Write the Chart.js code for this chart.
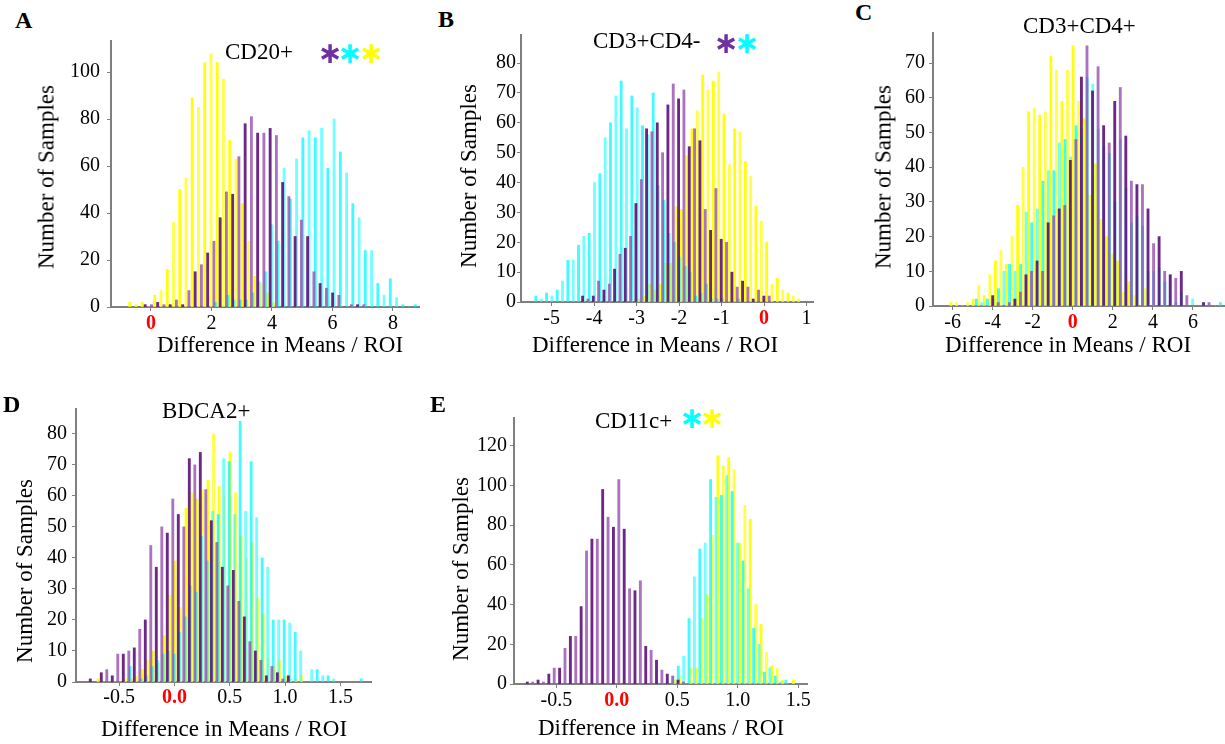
<!DOCTYPE html>
<html>
<head>
<meta charset="utf-8">
<script src="https://cdn.jsdelivr.net/npm/chart.js@4.4.1/dist/chart.umd.min.js"></script>
<style>
  body { margin: 0; background: #fff; width: 1225px; height: 744px; position: relative; overflow: hidden; font-family: "Liberation Serif", "Times New Roman", serif; }
  canvas { position: absolute; }
  .t { position: absolute; font-size: 23px; line-height: 1; white-space: nowrap; color: #000; }
  .yl { transform: translate(-50%, -50%) rotate(-90deg); }
  .xl { transform: translateX(-50%); }
  .lt { position: absolute; font-size: 24px; font-weight: bold; line-height: 1; }
  .s { position: absolute; font-family: "DejaVu Sans", sans-serif; font-weight: bold; font-size: 30px; line-height: 1; transform: translate(-50%, -50%); }
</style>
</head>
<body>
<canvas id="cA"></canvas>
<canvas id="cB"></canvas>
<canvas id="cC"></canvas>
<canvas id="cD"></canvas>
<canvas id="cE"></canvas>

<div class="lt" style="left:15px;top:8px">A</div>
<div class="lt" style="left:438px;top:7px">B</div>
<div class="lt" style="left:855px;top:0px">C</div>
<div class="lt" style="left:3px;top:392px">D</div>
<div class="lt" style="left:430px;top:392px">E</div>

<div class="t" style="left:225px;top:40px">CD20+</div>
<div class="t" style="left:593px;top:29px">CD3+CD4-</div>
<div class="t" style="left:1023px;top:14px">CD3+CD4+</div>
<div class="t" style="left:162px;top:399px">BDCA2+</div>
<div class="t" style="left:595px;top:409px">CD11c+</div>

<span class="s" style="left:330px;top:53px;color:#7030a0">∗</span>
<span class="s" style="left:350px;top:53px;color:#00ffff">∗</span>
<span class="s" style="left:371px;top:53px;color:#ffff00">∗</span>
<span class="s" style="left:726px;top:43px;color:#7030a0">∗</span>
<span class="s" style="left:747px;top:43px;color:#00ffff">∗</span>
<span class="s" style="left:692px;top:418px;color:#00ffff">∗</span>
<span class="s" style="left:712px;top:418px;color:#ffff00">∗</span>

<div class="t yl" style="left:46px;top:177px">Number of Samples</div>
<div class="t yl" style="left:468px;top:176px">Number of Samples</div>
<div class="t yl" style="left:883px;top:177px">Number of Samples</div>
<div class="t yl" style="left:24px;top:571px">Number of Samples</div>
<div class="t yl" style="left:460px;top:569px">Number of Samples</div>

<div class="t xl" style="left:280px;top:333px">Difference in Means / ROI</div>
<div class="t xl" style="left:655px;top:333px">Difference in Means / ROI</div>
<div class="t xl" style="left:1068px;top:333px">Difference in Means / ROI</div>
<div class="t xl" style="left:224px;top:717px">Difference in Means / ROI</div>
<div class="t xl" style="left:661px;top:716px">Difference in Means / ROI</div>

<script>
// ---- histogram data: first bin centre, bin width, counts per bin ----
// A  CD20+
const aBinWidth = 0.2065;
const aPurpleStart = -0.19;
const aPurple = [1,1,2,1,1,3,1,7,15,18,23,28,38,49,48,64,78,81,74,74,76,73,53,47,30,37,30,15,10,8,6,5,0,1,1,1];
const aCyanStart = 2.13;
const aCyan = [2,0,5,3,3,3,6,11,15,35,28,59,46,63,72,75,72,76,59,80,66,57,44,38,24,24,10,5,12,4,1,0,1];
const aYellowStart = -0.70;
const aYellow = [2,1,2,0,5,7,16,36,50,55,89,85,104,108,104,97,71,63,44,28,13,10,6,2];

// B  CD3+CD4-
const bBinWidth = 0.1255;
const bPurpleStart = -4.27;
const bPurple = [2,1,2,7,4,6,11,16,18,22,33,41,58,57,60,50,66,73,68,71,52,58,54,31,24,38,21,20,10,5,7,5,1,4,2,2];
const bCyanStart = -5.37;
const bCyan = [2,1,3,2,4,7,14,14,19,22,23,40,43,55,60,69,74,58,69,65,59,56,70,39,34,23,20,15,12,10,2,3,6,1,1,1,0,0,1];
const bYellowStart = -2.95;
const bYellow = [1,2,6,4,6,13,13,32,31,49,58,64,76,71,74,77,63,46,58,57,47,42,32,27,20,6,8,4,3,2,1];

// C  CD3+CD4+
const cBinWidth = 0.277;
const cPurpleStart = -4.00;
const cPurple = [3,1,0,1,2,4,9,10,13,10,24,26,28,29,42,48,66,75,62,69,52,47,59,63,49,36,35,35,28,18,20,10,9,8,10,3,0,0,1,1];
const cCyanStart = -4.82;
const cCyan = [2,1,2,2,5,10,12,10,12,27,24,28,36,39,39,47,48,43,52,51,66,64,51,46,44,30,48,34,24,26,23,10,10,11,7,9,1,4,0,2,0,1,0,0,1];
const cYellowStart = -6.08;
const cYellow = [1,1,0,1,2,6,3,9,13,16,12,20,29,40,56,57,55,56,72,68,59,68,75,59,54,32,41,25,20,15,13,4,7,3,0,5];

// D  BDCA2+
const dBinWidth = 0.0497;
const dPurpleStart = -0.76;
const dPurple = [1,0,3,4,2,9,9,10,11,17,20,44,37,50,48,59,54,50,72,70,74,62,52,45,37,31,36,26,21,13,10,7,2,5,3,1,2];
const dCyanStart = -0.40;
const dCyan = [5,0,1,2,5,7,9,10,9,16,21,31,29,47,39,55,54,72,71,54,84,55,71,53,40,37,20,20,20,19,16,10,0,4,4,2,2,1,0,0,0,0,1];
const dYellowStart = -0.69;
const dYellow = [1,0,0,0,0,1,1,2,4,7,10,6,15,28,39,24,56,61,59,62,65,80,63,60,74,61,47,40,45,27,22,8,5,7,2,1,1,2];

// E  CD11c+
const eBinWidth = 0.0445;
const ePurpleStart = -0.74;
const ePurple = [1,1,2,1,5,8,8,18,24,24,39,67,73,73,98,84,79,103,78,48,47,52,19,17,12,7,5,4,2,1];
const eCyanStart = 0.33;
const eCyan = [1,0,1,4,9,14,33,54,68,71,103,94,95,105,97,71,62,48,28,20,6,8,4,1,2];
const eYellowStart = 0.48;
const eYellow = [2,4,0,8,8,33,45,75,115,110,114,108,71,90,83,40,30,16,9,8,2,0,2];

// tick labels
const xTicksA = [0, 2, 4, 6, 8];
const xTicksB = [-5, -4, -3, -2, -1, 0, 1];
const xTicksC = [-6, -4, -2, 0, 2, 4, 6];
const xTicksD = [-0.5, 0, 0.5, 1, 1.5];
const xTicksE = [-0.5, 0, 0.5, 1, 1.5];
const yTicksA = [0, 20, 40, 60, 80, 100];
const yTicksB = [0, 10, 20, 30, 40, 50, 60, 70, 80];
const yTicksC = [0, 10, 20, 30, 40, 50, 60, 70];
const yTicksD = [0, 10, 20, 30, 40, 50, 60, 70, 80];
const yTicksE = [0, 20, 40, 60, 80, 100, 120];

// ---- drawing ----
// thin bars alias to alternating dark / pale shades in the original export
const PURPLE = ['rgba(92,16,122,0.9)', 'rgba(150,80,175,0.8)'];
const CYAN = ['rgba(0,250,255,0.75)', 'rgba(40,255,255,0.65)'];
const YELLOW = ['rgba(255,255,0,0.95)', 'rgba(255,255,40,0.85)'];
const AXIS = '#7f7f7f';
const FONT = '"Liberation Serif", "Times New Roman", serif';

function bins(start, width, counts) {
  return counts.map((c, i) => ({ x: start + i * width, y: c }));
}

const panels = [
  { id: 'A', box: { left: 111, top: 41, right: 419, bottom: 307 }, xMin: -1.32, xMax: 8.86, yMax: 113.2,
    xTicks: xTicksA, yTicks: yTicksA, dec: 0, xPad: 1, yPad: 7,
    series: [[aPurpleStart, aBinWidth, aPurple, PURPLE], [aCyanStart, aBinWidth, aCyan, CYAN], [aYellowStart, aBinWidth, aYellow, YELLOW]] },
  { id: 'B', box: { left: 521, top: 35, right: 813, bottom: 301.5 }, xMin: -5.72, xMax: 1.153, yMax: 89.4,
    xTicks: xTicksB, yTicks: yTicksB, dec: 0, xPad: 1, yPad: 1,
    series: [[bPurpleStart, bBinWidth, bPurple, PURPLE], [bCyanStart, bBinWidth, bCyan, CYAN], [bYellowStart, bBinWidth, bYellow, YELLOW]] },
  { id: 'C', box: { left: 933, top: 33, right: 1225, bottom: 306 }, xMin: -6.98, xMax: 7.6, yMax: 78.7,
    xTicks: xTicksC, yTicks: yTicksC, dec: 0, xPad: 1, yPad: 4,
    series: [[cPurpleStart, cBinWidth, cPurple, PURPLE], [cCyanStart, cBinWidth, cCyan, CYAN], [cYellowStart, cBinWidth, cYellow, YELLOW]] },
  { id: 'D', box: { left: 76, top: 409, right: 371, bottom: 682 }, xMin: -0.889, xMax: 1.776, yMax: 88,
    xTicks: xTicksD, yTicks: yTicksD, dec: 1, xPad: 0, yPad: 5,
    series: [[dPurpleStart, dBinWidth, dPurple, PURPLE], [dCyanStart, dBinWidth, dCyan, CYAN], [dYellowStart, dBinWidth, dYellow, YELLOW]] },
  { id: 'E', box: { left: 514, top: 418, right: 807, bottom: 684.3 }, xMin: -0.85, xMax: 1.572, yMax: 134,
    xTicks: xTicksE, yTicks: yTicksE, dec: 1, xPad: 1, yPad: 3,
    series: [[ePurpleStart, eBinWidth, ePurple, PURPLE], [eCyanStart, eBinWidth, eCyan, CYAN], [eYellowStart, eBinWidth, eYellow, YELLOW]] }
];

const yW = 70, xH = 40, padTop = 2, padRight = 3;

panels.forEach(p => {
  const canvas = document.getElementById('c' + p.id);
  canvas.width = Math.round(p.box.right - p.box.left + yW + padRight);
  canvas.height = Math.round(p.box.bottom - p.box.top + padTop + xH);
  canvas.style.left = (p.box.left - yW) + 'px';
  canvas.style.top = (p.box.top - padTop) + 'px';

  new Chart(canvas, {
    type: 'bar',
    data: {
      datasets: p.series.map(s => ({
        data: bins(s[0], s[1], s[2]),
        backgroundColor: ctx => s[3][ctx.dataIndex % 2],
        barThickness: 2.2,
        grouped: false
      }))
    },
    options: {
      responsive: false,
      animation: false,
      events: [],
      layout: { padding: { top: padTop, right: padRight, left: 0, bottom: 0 } },
      plugins: { legend: { display: false }, tooltip: { enabled: false } },
      scales: {
        x: {
          type: 'linear', min: p.xMin, max: p.xMax, offset: false,
          grid: { display: true, offset: false, drawOnChartArea: false, drawTicks: true, tickLength: 4, color: AXIS, tickColor: AXIS },
          border: { display: true, color: AXIS, width: 2 },
          ticks: {
            autoSkip: false, maxRotation: 0, padding: p.xPad,
            font: ctx => ({ family: FONT, size: 20, weight: ctx.tick && ctx.tick.value === 0 ? 'bold' : 'normal' }),
            color: ctx => (ctx.tick && ctx.tick.value === 0 ? '#ff0000' : '#000'),
            callback: v => Number(v).toFixed(p.dec)
          },
          afterBuildTicks: s => { s.ticks = p.xTicks.map(v => ({ value: v })); },
          afterFit: s => { s.height = xH; s.paddingLeft = 0; s.paddingRight = 0; }
        },
        y: {
          type: 'linear', min: 0, max: p.yMax,
          grid: { display: true, drawOnChartArea: false, drawTicks: true, tickLength: 4, color: AXIS, tickColor: AXIS },
          border: { display: true, color: AXIS, width: 2 },
          ticks: { autoSkip: false, padding: p.yPad, color: '#000', font: { family: FONT, size: 20 } },
          afterBuildTicks: s => { s.ticks = p.yTicks.map(v => ({ value: v })); },
          afterFit: s => { s.width = yW; s.paddingTop = 0; s.paddingBottom = 0; }
        }
      }
    }
  });
});
</script>
</body>
</html>
